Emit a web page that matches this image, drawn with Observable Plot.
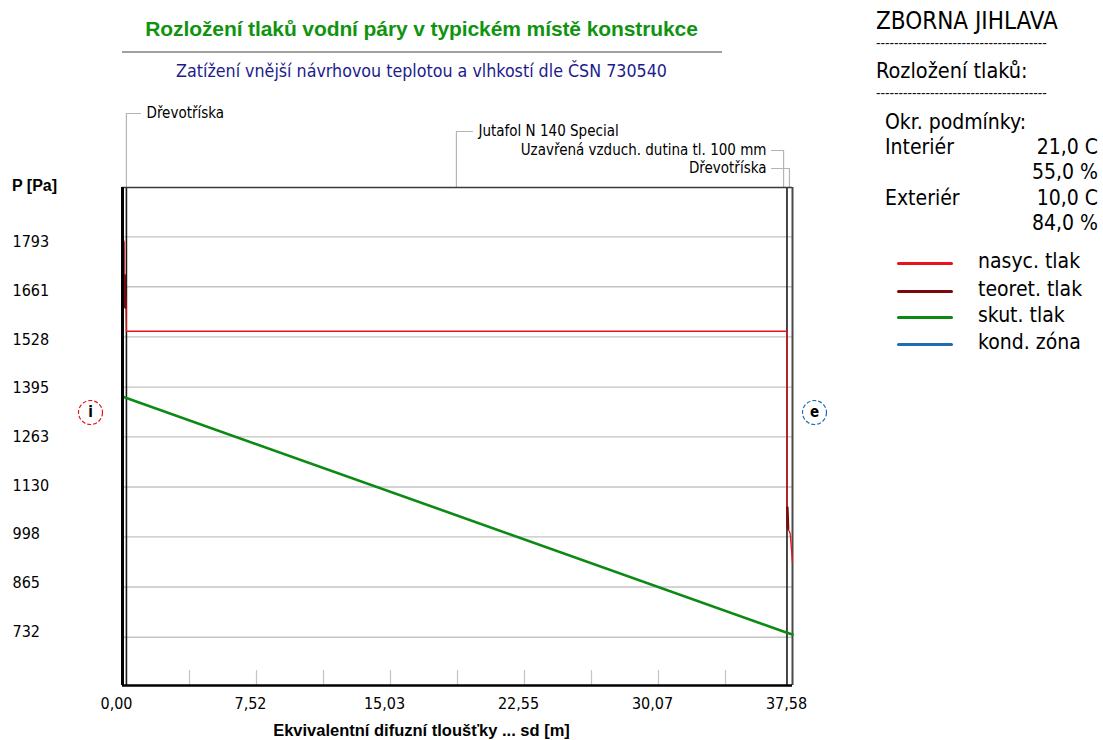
<!DOCTYPE html>
<html><head><meta charset="utf-8">
<script src="https://cdn.jsdelivr.net/npm/d3@7"></script>
<script src="https://cdn.jsdelivr.net/npm/@observablehq/plot@0.6"></script>
<style>
body{margin:0;background:#fff;}
#wrap{position:relative;width:1103px;height:740px;overflow:hidden;font-family:"Liberation Sans Narrow","Arial Narrow","DejaVu Sans Condensed",sans-serif;color:#000;}
#wrap svg{position:absolute;left:0;top:0;}
.t{position:absolute;white-space:nowrap;line-height:1;}
.lg{position:absolute;left:897px;width:56px;height:3px;border-radius:2px;}
</style></head><body><div id="wrap"></div>
<script>
// ---- data ----
const yTickValues = [732, 865, 998, 1130, 1263, 1395, 1528, 1661, 1793];
const yTickLabels = ["732", "865", "998", "1130", "1263", "1395", "1528", "1661", "1793"];
const xTickValues = [0, 7.516, 15.032, 22.548, 30.064, 37.58];
const xTickLabels = ["0,00", "7,52", "15,03", "22,55", "30,07", "37,58"];
const xMax = 37.58;
const yDomain = [604, 1924];

// saturated pressure (nasyc. tlak)
const sdNasyc = [0, 0.1, 0.1, 0.2, 0.22, 37.27, 37.27, 37.33, 37.45, 37.58];
const pNasyc  = [1794, 1778, 1690, 1606, 1543, 1543, 1076, 1020, 1007, 930];
// theoretical pressure (teoret. tlak)
const sdTeoret  = [0.12, 0.16, 37.29, 37.33];
const pTeoret   = [1691, 1606, 1076, 1020];
const segTeoret = ["L", "L", "R", "R"];
// actual pressure (skut. tlak)
const sdSkut = [0, 0.22, 37.27, 37.58];
const pSkut  = [1370, 1366, 744, 739];

// layers
const layerBounds = [0.22, 37.27];
const layerNames  = ["Dřevotříska", "Jutafol N 140 Special", "Uzavřená vzduch. dutina tl. 100 mm", "Dřevotříska"];
const layerLeaderSd = [0.22, 18.73, 37.08, 37.41];

// conditions
const condLabels = ["Interiér", "", "Exteriér", ""];
const condValues = ["21,0 C", "55,0 %", "10,0 C", "84,0 %"];
const legendNames  = ["nasyc. tlak", "teoret. tlak", "skut. tlak", "kond. zóna"];
const legendColors = ["#e8141a", "#7a0a0a", "#0c8a14", "#1f6cb0"];

// ---- chart ----
const W = 1103, H = 740, mL = 122, mR = 311, mT = 187, mB = 55;
const FONT = '"Liberation Sans Narrow","Arial Narrow","DejaVu Sans Condensed",sans-serif';
const yS = Plot.scale({y: {domain: yDomain, range: [H - mB, mT]}});
const xS = Plot.scale({x: {domain: [0, xMax], range: [mL, W - mR]}});
const xMinor = d3.range(0, 11).map(i => i * xMax / 10);

const nasyc = sdNasyc.map((x, i) => ({x, y: pNasyc[i]}));
const teoret = sdTeoret.map((x, i) => ({x, y: pTeoret[i], s: segTeoret[i]}));
const skut = sdSkut.map((x, i) => ({x, y: pSkut[i]}));

// y tick labels: the original spreads them slightly tighter than the gridlines
const yLabels = yTickValues.map((v, i) => ({
  v, t: yTickLabels[i],
  y: yS.invert(yS.apply(v) + (-5 + i * 1.25))
}));

// leader label rows (pixel rows above the frame), converted into pressure units
const leaderRows = [113, 131, 150, 168].map(px => yS.invert(px));
const leaderSide = ["right", "right", "left", "left"];
const leaderEndPx = [140, 472, 771, 771];
const leaders = [];
layerNames.forEach((n, i) => {
  const xs = layerLeaderSd[i];
  leaders.push({i, x: xs, y: yDomain[1]}, {i, x: xs, y: leaderRows[i]}, {i, x: xS.invert(leaderEndPx[i]), y: leaderRows[i]});
});
const leaderLabels = layerNames.map((n, i) => ({
  n, y: leaderRows[i],
  x: xS.invert(leaderSide[i] === "right" ? leaderEndPx[i] + 6 : leaderEndPx[i] - 5),
  side: leaderSide[i]
}));
const circleY = yS.invert(412);

const plot = Plot.plot({
  width: W, height: H,
  marginLeft: mL, marginRight: mR, marginTop: mT, marginBottom: mB,
  x: {domain: [0, xMax]},
  y: {domain: yDomain},
  style: {fontFamily: FONT, fontSize: "16px", color: "#000", background: "#fff"},
  marks: [
    Plot.ruleY(yTickValues, {stroke: "#c4c4c4", strokeWidth: 1.4}),
    Plot.ruleX(xMinor, {stroke: "#c4c4c4", strokeWidth: 1.2, insetTop: (H - mB - mT) - 15}),
    Plot.text(yLabels, {x: 0, y: "y", text: "t", textAnchor: "start", dx: -110, fontSize: 16}),
    Plot.axisX(xTickValues, {tickSize: 0, tickFormat: (d, i) => xTickLabels[i], dx: -6, dy: 3, fontSize: 16, label: null}),
    Plot.axisY([], {label: null}),
    // leaders
    Plot.line(leaders, {x: "x", y: "y", z: "i", stroke: "#b4b4b4", strokeWidth: 1.2}),
    Plot.text(leaderLabels.filter(d => d.side === "right"), {x: "x", y: "y", text: "n", textAnchor: "start", fontSize: 15}),
    Plot.text(leaderLabels.filter(d => d.side === "left"), {x: "x", y: "y", text: "n", textAnchor: "end", fontSize: 15}),
    // frame & layer boundaries
    Plot.ruleX(layerBounds, {stroke: "#1a1a1a", strokeWidth: 1.6}),
    Plot.ruleY([yDomain[1]], {stroke: "#3a3a3a", strokeWidth: 1.6}),
    Plot.ruleX([xMax], {stroke: "#4a4a4a", strokeWidth: 2}),
    // data
    Plot.line(nasyc, {x: "x", y: "y", stroke: legendColors[0], strokeWidth: 1.3}),
    Plot.line(skut, {x: "x", y: "y", stroke: legendColors[2], strokeWidth: 2.6}),
    Plot.line(teoret, {x: "x", y: "y", z: "s", stroke: legendColors[1], strokeWidth: 2.6}),
    Plot.ruleX([0], {stroke: "#000", strokeWidth: 3}),
    Plot.ruleY([yDomain[0]], {stroke: "#000", strokeWidth: 2.4}),
    // i / e markers
    Plot.dot([{x: 0, y: circleY}], {x: "x", y: "y", dx: -32, r: 12, stroke: "#e8141a", strokeWidth: 1.2, strokeDasharray: "4,2", fill: "#fff"}),
    Plot.text([{x: 0, y: circleY}], {x: "x", y: "y", dx: -32, text: () => "i", fontWeight: "bold", fontSize: 15}),
    Plot.dot([{x: xMax, y: circleY}], {x: "x", y: "y", dx: 22, r: 12, stroke: "#1f6cb0", strokeWidth: 1.2, strokeDasharray: "4,2", fill: "#fff"}),
    Plot.text([{x: xMax, y: circleY}], {x: "x", y: "y", dx: 22, text: () => "e", fontWeight: "bold", fontSize: 15})
  ]
});
const wrap = document.getElementById("wrap");
wrap.appendChild(plot);

function addText(txt, css) {
  const d = document.createElement("div");
  d.className = "t"; d.textContent = txt;
  Object.assign(d.style, css);
  wrap.appendChild(d);
  return d;
}
// titles
addText("Rozložení tlaků vodní páry v typickém místě konstrukce", {left: "0px", width: "843px", textAlign: "center", top: "18px", fontSize: "21px", color: "#109410", fontFamily: '"Liberation Sans","Arial",sans-serif', fontWeight: "bold", letterSpacing: "-0.1px"});
const hr = document.createElement("div");
Object.assign(hr.style, {position: "absolute", left: "122px", top: "51px", width: "600px", height: "2px", background: "#a0a0a0"});
wrap.appendChild(hr);
addText("Zatížení vnější návrhovou teplotou a vlhkostí dle ČSN 730540", {left: "0px", width: "843px", textAlign: "center", top: "63px", fontSize: "17.7px", color: "#1c1c8c"});
addText("P [Pa]", {left: "12px", top: "178px", fontSize: "16px", fontWeight: "bold", fontFamily: '"Liberation Sans","Arial",sans-serif'});
addText("Ekvivalentní difuzní tloušťky ... sd [m]", {left: "0px", width: "843px", textAlign: "center", top: "722px", fontSize: "16.5px", fontWeight: "bold", fontFamily: '"Liberation Sans","Arial",sans-serif'});

// right panel
const dashes = "-".repeat(38);
addText("ZBORNA JIHLAVA", {left: "876px", top: "9px", fontSize: "24px"});
addText(dashes, {left: "876px", top: "36px", fontSize: "14px", color: "#111", letterSpacing: "-0.05px"});
addText("Rozložení tlaků:", {left: "876px", top: "60px", fontSize: "21.5px"});
addText(dashes, {left: "876px", top: "86px", fontSize: "14px", color: "#111", letterSpacing: "-0.05px"});
addText("Okr. podmínky:", {left: "885px", top: "112px", fontSize: "21px"});
condLabels.forEach((l, i) => {
  const top = 137 + i * 25.3;
  if (l) addText(l, {left: "885px", top: top + "px", fontSize: "21px"});
  addText(condValues[i], {right: (1103 - 1098) + "px", top: top + "px", fontSize: "21px"});
});
legendNames.forEach((n, i) => {
  const y = [263, 291, 317, 344][i];
  const l = document.createElement("div");
  l.className = "lg"; l.style.top = (y - 1.5) + "px"; l.style.background = legendColors[i];
  wrap.appendChild(l);
  addText(n, {left: "978px", top: (y - 12) + "px", fontSize: "21px"});
});
</script>
</body></html>
